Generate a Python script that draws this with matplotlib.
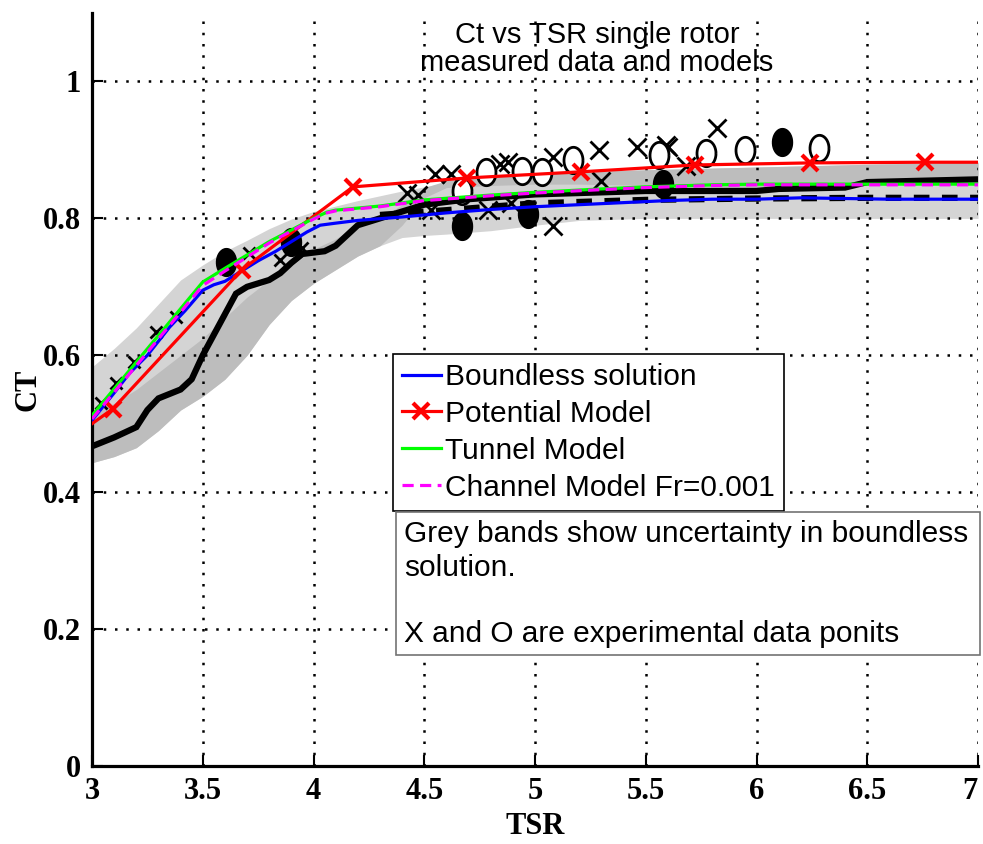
import numpy as np
import matplotlib
matplotlib.use('Agg')
import matplotlib.pyplot as plt
from matplotlib.patches import Rectangle

# grey uncertainty bands
band_x = [3.0, 3.1, 3.2, 3.3, 3.4, 3.5, 3.6, 3.7, 3.8, 3.9, 4.0, 4.1, 4.2, 4.3, 4.4, 4.5, 4.6, 4.8, 5.0, 5.2, 5.5, 6.0, 6.5, 7.0]
light_top = [.583, .61, .64, .675, .71, .732, .752, .768, .785, .799, .81, .818, .826, .833, .84, .846, .852, .86, .865, .868, .871, .875, .879, .882]
light_bot = [.443, .452, .465, .49, .52, .54, .565, .60, .645, .68, .705, .725, .745, .76, .772, .775, .777, .782, .79, .797, .80, .80, .80, .80]
dark_top = [.515, .53, .55, .575, .60, .625, .655, .685, .71, .73, .755, .77, .79, .80, .82, .845, .855, .862, .865, .868, .871, .875, .879, .882]
dark_bot = [.443, .452, .465, .49, .52, .54, .565, .60, .645, .68, .705, .725, .745, .76, .79, .83, .845, .848, .85, .85, .848, .845, .848, .852]

# thick black curves
blk_x = [3.0, 3.1, 3.2, 3.25, 3.3, 3.4, 3.45, 3.5, 3.55, 3.6, 3.65, 3.7, 3.8, 3.85, 3.9, 3.95, 4.0, 4.05, 4.1, 4.15, 4.2, 4.3, 4.4, 4.5, 4.7, 5.0, 5.5, 6.0, 6.1, 6.4, 6.5, 7.0]
blk_y = [.467, .48, .495, .52, .537, .55, .565, .60, .63, .66, .69, .70, .71, .72, .735, .748, .75, .752, .76, .775, .79, .80, .81, .82, .828, .835, .84, .84, .843, .845, .853, .857]
blkd_x = [4.3, 4.6, 5.0, 5.5, 6.0, 6.5, 7.0]
blkd_y = [.805, .812, .822, .827, .829, .83, .83]

# models
blue_x = [3.0, 3.1, 3.17, 3.25, 3.35, 3.42, 3.5, 3.55, 3.6, 3.67, 3.75, 3.83, 3.9, 3.97, 4.03, 4.1, 4.2, 4.4, 4.6, 4.8, 5.0, 5.2, 5.4, 5.6, 5.8, 6.0, 6.2, 6.4, 6.6, 6.8, 7.0]
blue_y = [.505, .545, .574, .60, .641, .665, .695, .703, .708, .722, .738, .752, .766, .780, .790, .793, .797, .802, .808, .813, .817, .820, .823, .826, .828, .828, .830, .829, .828, .828, .828]
red_x = [3.0, 3.095, 3.677, 4.178, 4.693, 5.208, 5.722, 6.24, 6.76, 7.0]
red_y = [.50, .522, .725, .846, .859, .868, .878, .881, .882, .882]
green_x = [3.0, 3.5, 3.6, 3.8, 4.0, 4.06, 4.1, 4.3, 4.5, 4.8, 5.0, 5.3, 5.5, 5.8, 6.0, 6.5, 7.0]
green_y = [.512, .707, .727, .766, .800, .809, .812, .818, .827, .834, .838, .843, .846, .849, .850, .850, .850]
mag_y = [.507, .702, .723, .764, .799, .808, .811, .817, .826, .833, .837, .842, .845, .848, .849, .849, .849]

# experimental points (first ones sit under the model lines)
xs_x = [3.04, 3.11, 3.19, 3.29, 3.38, 3.71, 3.85, 3.95]
xs_y = [.53, .56, .59, .634, .656, .749, .739, .757]
xm_x = [4.42, 4.47, 4.53, 4.55, 4.62, 4.79, 4.84, 4.88, 4.89, 5.08, 5.08, 5.29, 5.30, 5.46, 5.59, 5.60, 5.68, 5.82]
xm_y = [.837, .834, .812, .865, .865, .812, .879, .882, .822, .890, .789, .90, .855, .904, .907, .904, .877, .932]
om_x = [4.67, 4.78, 4.94, 5.03, 5.17, 5.56, 5.77, 5.95, 6.28]
om_y = [.840, .868, .869, .868, .885, .893, .896, .90, .903]
fm_x = [3.605, 3.9, 4.67, 4.97, 5.58, 6.115]
fm_y = [.736, .765, .789, .807, .85, .912]

W, H = 983, 844
fig = plt.figure(figsize=(W / 100, H / 100), dpi=100)
ax = fig.add_axes([92 / W, 1 - 766 / H, 886 / W, 753 / H])

ax.fill_between(band_x, light_bot, light_top, color='#d4d4d4', lw=0, zorder=1)
ax.fill_between(band_x, dark_bot, dark_top, color='#bdbdbd', lw=0, zorder=1.1)

# ellipse marker, taller than wide
t = np.linspace(0, 2 * np.pi, 40)
ell = list(zip(0.72 * np.cos(t), np.sin(t)))
ax.plot(xs_x, xs_y, 'x', color='k', ms=8, mew=2, zorder=3)
ax.plot(xm_x, xm_y, 'x', color='k', ms=13, mew=2, zorder=3)
ax.plot(om_x, om_y, ls='none', marker=ell, ms=19, mfc='white', mec='k', mew=2, zorder=3)
ax.plot(fm_x, fm_y, ls='none', marker=ell, ms=20, mfc='k', mec='k', zorder=3)

ax.plot(blk_x, blk_y, color='k', lw=4.5, zorder=3.5, solid_joinstyle='miter')
ax.plot(blkd_x, blkd_y, color='k', lw=4.5, ls=(0, (2.5, 2)), zorder=3.5)

l1, = ax.plot(blue_x, blue_y, color='#0000ff', lw=2.3, zorder=4)
l2, = ax.plot(red_x, red_y, color='#ff0000', lw=2.3, marker='x', ms=12, mew=3,
              markevery=list(range(1, 9)), zorder=5)
l3, = ax.plot(green_x, green_y, color='#00ff00', lw=2.3, zorder=6)
l4, = ax.plot(green_x, mag_y, color='#ff00ff', lw=2.3, ls=(0, (3.5, 2)), zorder=7)

ax.set_xlim(3, 7)
ax.set_ylim(0, 1.1)
ax.set_xticks([3, 3.5, 4, 4.5, 5, 5.5, 6, 6.5, 7])
ax.set_xticklabels(['3', '3.5', '4', '4.5', '5', '5.5', '6', '6.5', '7'])
ax.set_yticks([0, 0.2, 0.4, 0.6, 0.8, 1])
ax.set_yticklabels(['0', '0.2', '0.4', '0.6', '0.8', '1'])

ax.set_axisbelow(False)
ax.grid(True, color='k', lw=1.8, ls=(0, (1, 3.5)))
for s in ['top', 'right']:
    ax.spines[s].set_visible(False)
for s in ['left', 'bottom']:
    ax.spines[s].set_linewidth(2.3)
ax.tick_params(direction='in', length=8, width=1.5, pad=8)
for lab in ax.get_xticklabels() + ax.get_yticklabels():
    lab.set_fontfamily('Liberation Serif')
    lab.set_fontweight('bold')
    lab.set_fontsize(22)
# keep the last label inside the figure
ax.get_xticklabels()[-1].set_horizontalalignment('right')

ax.set_xlabel('TSR', family='Liberation Serif', weight='bold', fontsize=22, labelpad=4)
ax.set_ylabel('CT', family='Liberation Serif', weight='bold', fontsize=22, labelpad=0)

ax.text(5.28, 1.048, 'Ct vs TSR single rotor\nmeasured data and models', ha='center', va='center',
        family='Liberation Sans', fontsize=21, linespacing=1.0, zorder=10)

leg = ax.legend([l1, l2, l3, l4],
                ['Boundless solution', 'Potential Model', 'Tunnel Model', 'Channel Model Fr=0.001'],
                loc='upper left', bbox_to_anchor=((393 - 92) / 886, (766 - 354) / 753),
                prop={'family': 'Liberation Sans', 'size': 21.5}, fancybox=False, framealpha=1,
                edgecolor='k', borderpad=0.3, labelspacing=0.3, handlelength=1.3,
                handletextpad=0.15, borderaxespad=0)
leg.get_frame().set_linewidth(1.2)
leg.set_zorder(20)

fig.patches.append(Rectangle((396 / W, 1 - 655 / H), (980 - 396) / W, (655 - 512) / H,
                             transform=fig.transFigure, facecolor='white', edgecolor='0.45',
                             lw=1.2, zorder=20))
fig.text(404 / W, 1 - 520 / H,
         'Grey bands show uncertainty in boundless\nsolution.\n\nX and O are experimental data ponits',
         ha='left', va='top', family='Liberation Sans', fontsize=21.5, linespacing=1.25, zorder=21)

fig.savefig('out.png', dpi=100)
